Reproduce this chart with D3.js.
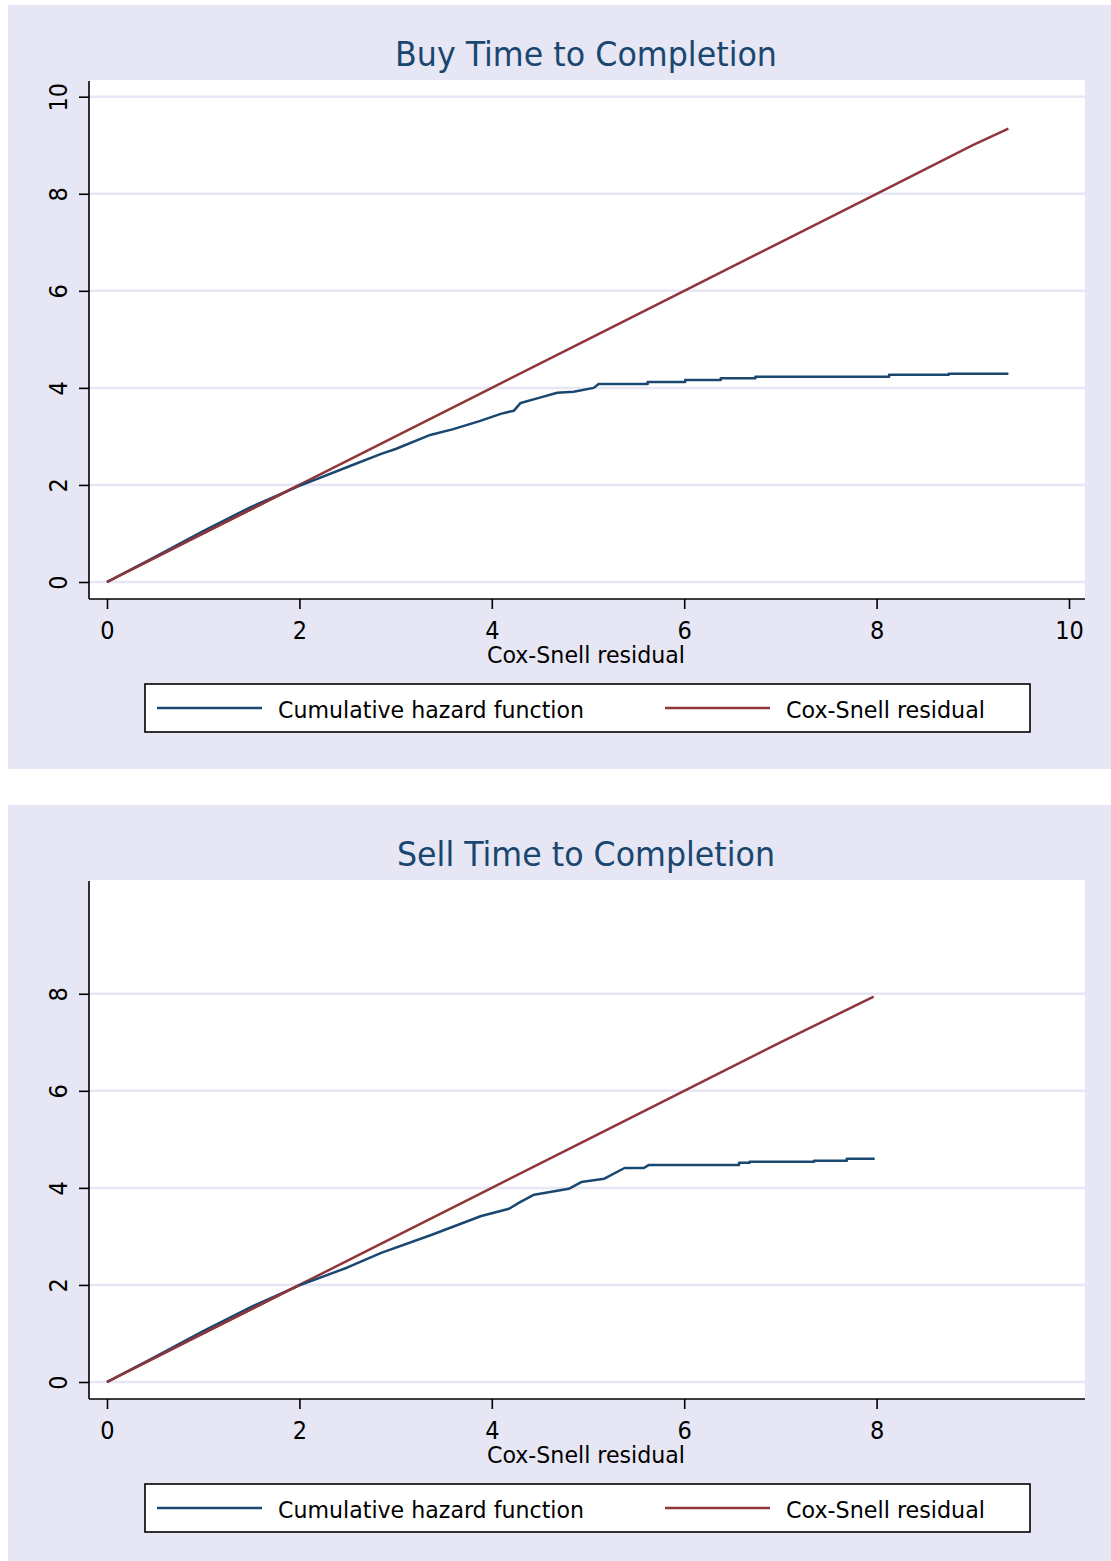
<!DOCTYPE html>
<html lang="en">
<head>
    <script type="text/javascript" src="https://cdn.jsdelivr.net/npm/d3@7"></script>
    <meta charset="UTF-8">
    <title>Cox-Snell residuals</title>
</head>
<body style="margin:0;background:#ffffff;">
<script>
    // panel titles and ticks
    var titles = ["Buy Time to Completion", "Sell Time to Completion"];
    var xTickVals = [[0, 2, 4, 6, 8, 10], [0, 2, 4, 6, 8]];
    var yTickVals = [[0, 2, 4, 6, 8, 10], [0, 2, 4, 6, 8]];
    var xLabel = "Cox-Snell residual";
    var legendLabels = ["Cumulative hazard function", "Cox-Snell residual"];

    // Buy: cumulative hazard (step function)
    var buyHazX = [0, 0.5, 1, 1.5, 2, 2.5, 2.85, 3, 3.36, 3.6, 3.88, 4.1, 4.23, 4.3, 4.5, 4.68, 4.85, 5.06, 5.11, 5.62, 5.62, 6.01, 6.01, 6.38, 6.38, 6.74, 6.74, 8.13, 8.13, 8.75, 8.75, 9.37];
    var buyHazY = [0, 0.52, 1.05, 1.55, 1.98, 2.37, 2.64, 2.74, 3.03, 3.15, 3.32, 3.47, 3.53, 3.69, 3.8, 3.9, 3.92, 4.0, 4.08, 4.08, 4.12, 4.12, 4.16, 4.16, 4.2, 4.2, 4.23, 4.23, 4.27, 4.27, 4.29, 4.29];
    // Buy: Cox-Snell residual against itself
    var buyCsX = [0, 1, 2, 3, 4, 5, 6, 7, 8, 9, 9.37];
    var buyCsY = [0, 1, 2, 3, 4, 5, 6, 7, 8, 9, 9.34];

    // Sell
    var sellHazX = [0, 0.5, 1, 1.5, 2, 2.5, 2.85, 3.37, 3.89, 4.18, 4.28, 4.44, 4.8, 4.93, 5.17, 5.38, 5.58, 5.63, 6.57, 6.57, 6.68, 6.68, 7.35, 7.35, 7.69, 7.69, 7.98];
    var sellHazY = [0, 0.52, 1.05, 1.55, 1.99, 2.36, 2.66, 3.03, 3.42, 3.57, 3.69, 3.86, 3.98, 4.12, 4.19, 4.41, 4.41, 4.47, 4.47, 4.52, 4.52, 4.54, 4.54, 4.56, 4.56, 4.6, 4.6];
    var sellCsX = [0, 1, 2, 3, 4, 5, 6, 7, 7.97];
    var sellCsY = [0, 1, 2, 3, 4, 5, 6, 7, 7.94];

    var bg = "#E6E6F5", navy = "#1A476F", maroon = "#90353B";
    var font = "'DejaVu Sans Condensed', 'DejaVu Sans', sans-serif";

    var svg = d3.select("body").append("svg")
        .attr("width", 1111)
        .attr("height", 1561);

    function zip(xs, ys) {
        return xs.map(function(v, i) { return [v, ys[i]]; });
    }

    function drawPanel(top, title, xTicks, yTicks, haz, cs, titleLen) {
        var g = svg.append("g").attr("transform", "translate(0," + top + ")");

        var x = d3.scaleLinear().domain([0, 10]).range([107, 1069]);
        var y = d3.scaleLinear().domain([0, 10]).range([577, 91.7]);

        g.append("rect").attr("x", 8).attr("y", 0).attr("width", 1103).attr("height", 764).attr("fill", bg);
        g.append("rect").attr("x", 89).attr("y", 75).attr("width", 996).attr("height", 519).attr("fill", "#ffffff");

        g.append("text")
            .attr("x", 586).attr("y", 61)
            .attr("text-anchor", "middle")
            .attr("textLength", titleLen).attr("lengthAdjust", "spacingAndGlyphs")
            .style("font-family", font).style("font-size", "33px").style("fill", navy)
            .text(title);

        // grid lines
        g.selectAll(".grid").data(yTicks).enter().append("line")
            .attr("x1", 89).attr("x2", 1085)
            .attr("y1", function(d) { return y(d); }).attr("y2", function(d) { return y(d); })
            .attr("stroke", bg).attr("stroke-width", 2.5);

        var lineGen = d3.line()
            .x(function(d) { return x(d[0]); })
            .y(function(d) { return y(d[1]); });

        g.append("path").datum(cs).attr("d", lineGen)
            .attr("fill", "none").attr("stroke", maroon).attr("stroke-width", 2.5);
        g.append("path").datum(haz).attr("d", lineGen)
            .attr("fill", "none").attr("stroke", navy).attr("stroke-width", 2.5)
            .attr("stroke-linejoin", "round");
        // red drawn on top in the original near origin
        g.append("path").datum(cs.slice(0, 3)).attr("d", lineGen)
            .attr("fill", "none").attr("stroke", maroon).attr("stroke-width", 2.5);

        // axes
        var xAxis = d3.axisBottom(x).tickValues(xTicks).tickSize(10).tickPadding(12).tickSizeOuter(0);
        var gx = g.append("g").attr("transform", "translate(0,594)").call(xAxis);
        gx.select(".domain").attr("d", "M89,0H1085");
        gx.selectAll("text").style("font-family", font).style("font-size", "25px").style("fill", "#000");

        var yAxis = d3.axisLeft(y).tickValues(yTicks).tickSize(10).tickSizeOuter(0).tickFormat(d3.format("d"));
        var gy = g.append("g").attr("transform", "translate(89,0)").call(yAxis);
        gy.select(".domain").attr("d", "M0,76V594");
        gy.selectAll("text")
            .attr("x", null).attr("dy", null)
            .attr("text-anchor", "middle")
            .attr("transform", "translate(-22,0) rotate(-90)")
            .style("font-family", font).style("font-size", "25px").style("fill", "#000");
        g.selectAll(".domain, .tick line").attr("stroke", "#000").attr("stroke-width", 1.6);

        g.append("text")
            .attr("x", 586).attr("y", 658)
            .attr("text-anchor", "middle")
            .attr("textLength", 198).attr("lengthAdjust", "spacingAndGlyphs")
            .style("font-family", font).style("font-size", "23px").style("fill", "#000")
            .text(xLabel);

        // legend
        g.append("rect").attr("x", 145).attr("y", 679).attr("width", 885).attr("height", 48)
            .attr("fill", "#ffffff").attr("stroke", "#000").attr("stroke-width", 1.6);
        var items = [
            {label: legendLabels[0], color: navy, x: 157, len: 306},
            {label: legendLabels[1], color: maroon, x: 665, len: 199}
        ];
        var leg = g.selectAll(".leg").data(items).enter().append("g");
        leg.append("line")
            .attr("x1", function(d) { return d.x; }).attr("x2", function(d) { return d.x + 105; })
            .attr("y1", 703).attr("y2", 703)
            .attr("stroke", function(d) { return d.color; }).attr("stroke-width", 2.5);
        leg.append("text")
            .attr("x", function(d) { return d.x + 121; }).attr("y", 713)
            .attr("textLength", function(d) { return d.len; }).attr("lengthAdjust", "spacingAndGlyphs")
            .style("font-family", font).style("font-size", "23px").style("fill", "#000")
            .text(function(d) { return d.label; });
    }

    drawPanel(5, titles[0], xTickVals[0], yTickVals[0], zip(buyHazX, buyHazY), zip(buyCsX, buyCsY), 382);
    drawPanel(805, titles[1], xTickVals[1], yTickVals[1], zip(sellHazX, sellHazY), zip(sellCsX, sellCsY), 378);
</script>
</body>
</html>
